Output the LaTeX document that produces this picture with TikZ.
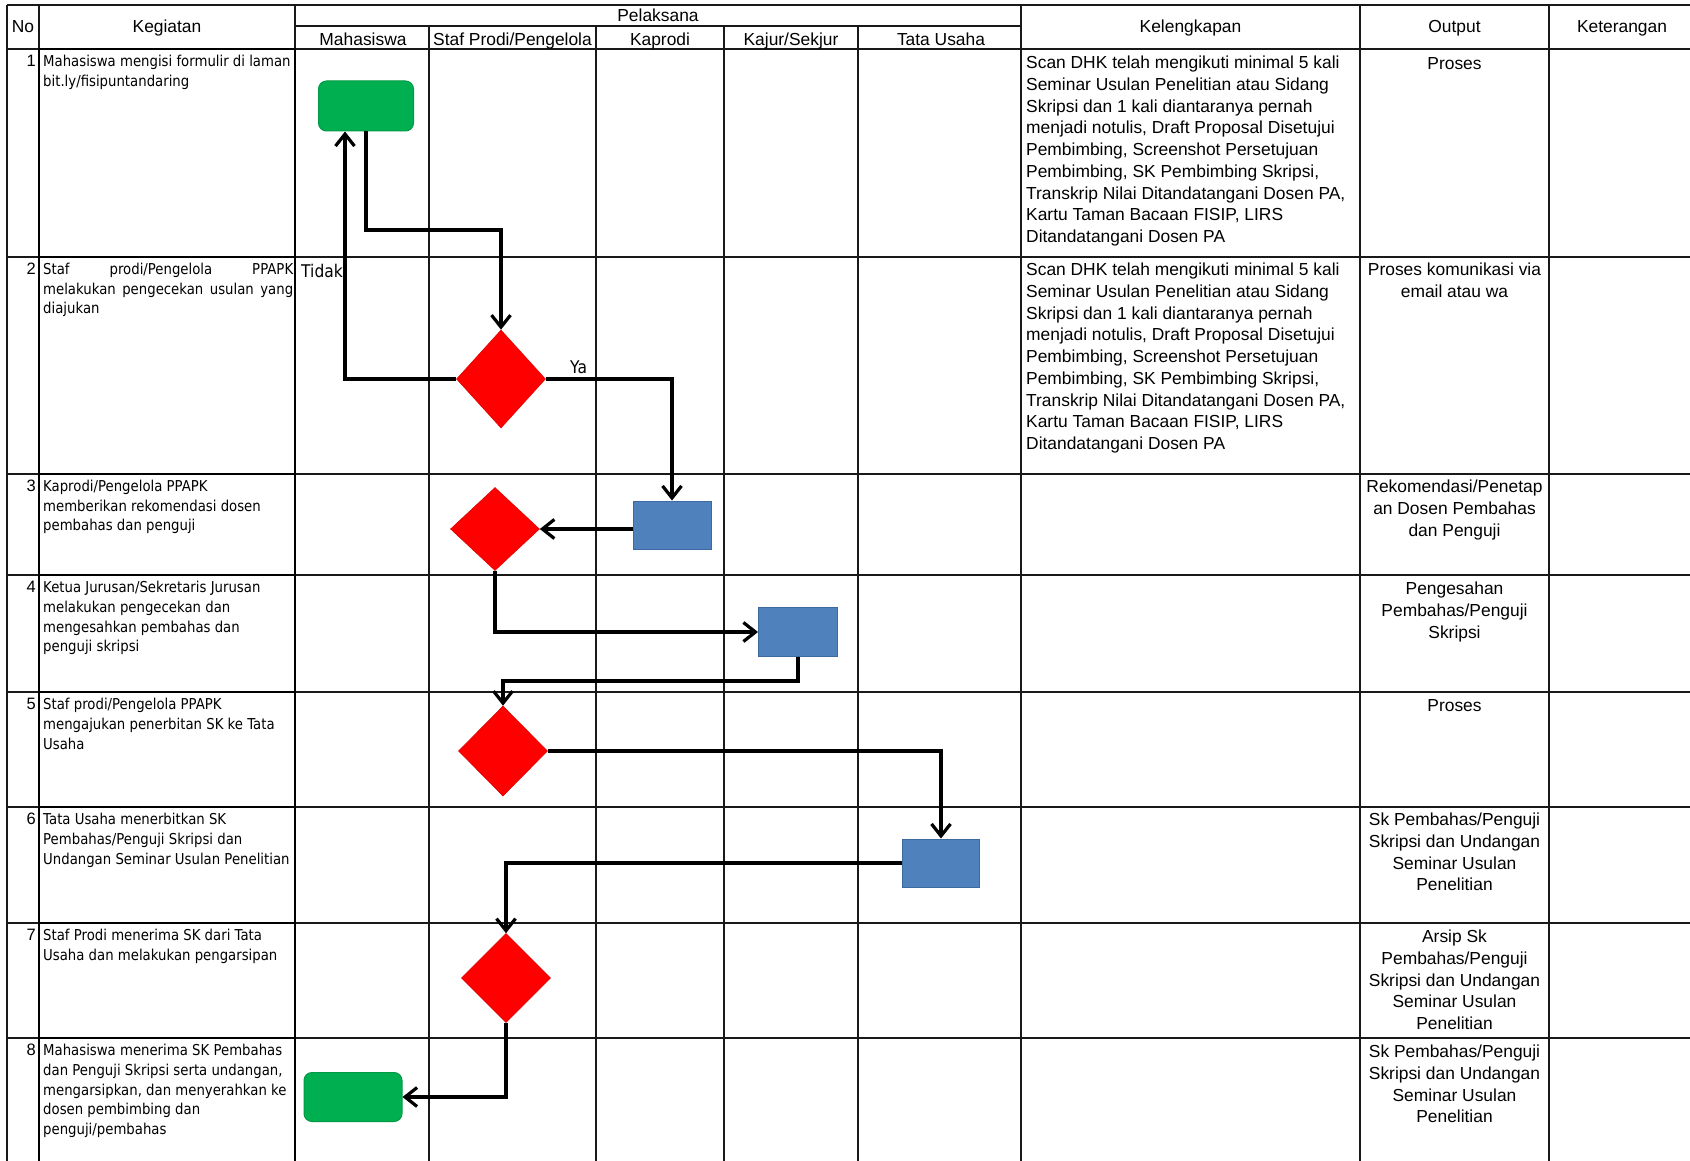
\documentclass[tikz,border=0pt]{standalone}
\usepackage{fontspec}
\setmainfont{Liberation Sans}
\newfontfamily\tah{DejaVu Sans}[FakeStretch=0.885]
\usetikzlibrary{shapes.geometric,arrows.meta}
\definecolor{xgreen}{HTML}{00B050}
\definecolor{xgreenb}{HTML}{009A46}
\definecolor{xred}{HTML}{FF0000}
\definecolor{xredb}{HTML}{E00000}
\definecolor{xblue}{HTML}{4F81BD}
\definecolor{xblueb}{HTML}{3D6A9E}
\tikzset{
  gridline/.style={line width=1.4pt, draw=black!90},
  kegline/.style={line width=2.8pt, draw=black, line cap=rect},
  flow/.style={line width=3.2pt, draw=black, -{Straight Barb[length=12pt,width=19pt]}},
  hdr/.style={font=\fontsize{17.4}{21}\selectfont, inner sep=0pt, anchor=base},
  keg/.style={font=\tah\fontsize{15}{19.7}\selectfont, align=left, anchor=north west, inner sep=0pt},
  num/.style={font=\fontsize{16.5}{19.7}\selectfont, anchor=north east, inner sep=0pt},
  kel/.style={font=\fontsize{17.4}{21.7}\selectfont, align=left, anchor=north west, inner sep=0pt},
  outp/.style={font=\fontsize{17.4}{21.7}\selectfont, align=center, anchor=north, inner sep=0pt},
  lbl/.style={font=\tah\fontsize{17.5}{19}\selectfont, anchor=base west, inner sep=0pt},
  startbox/.style={draw=xgreenb, fill=xgreen, rounded corners=8pt, line width=1pt, inner sep=0pt},
  procbox/.style={draw=xblueb, fill=xblue, line width=1pt, inner sep=0pt},
  decision/.style={diamond, draw=xredb, fill=xred, line width=0.6pt, inner sep=0pt},
}
\begin{document}
\begin{tikzpicture}[x=1pt,y=-1pt]
\useasboundingbox[fill=white] (0,0) rectangle (1690,1161);
% grid
\draw[gridline] (7,5) -- (1690,5);
\draw[gridline] (295,26) -- (1021,26);
\foreach \y in {49,257,474,575,692,807,923,1038} \draw[gridline] (7,\y) -- (1690,\y);
\foreach \x in {7,39,295,1021,1360,1549} \draw[gridline] (\x,5) -- (\x,1161);
\foreach \x in {429,596,724,858} \draw[gridline] (\x,26) -- (\x,1161);
% thick kegiatan cells
\draw[kegline] (39,49) -- (39,1161) (295,49) -- (295,1161);
\foreach \y in {49,257,474,575,692,807,923,1038} \draw[kegline] (39,\y) -- (295,\y);

% header
\node[hdr] (hno) at (23,33) {No};
\node[hdr] (hkeg) at (167,33) {Kegiatan};
\node[hdr] (hpel) at (658,22) {Pelaksana};
\node[hdr] (hmhs) at (363,46) {Mahasiswa};
\node[hdr] (hstaf) at (512.5,46) {Staf Prodi/Pengelola};
\node[hdr] (hkap) at (660,46) {Kaprodi};
\node[hdr] (hkaj) at (791,46) {Kajur/Sekjur};
\node[hdr] (htu) at (941,46) {Tata Usaha};
\node[hdr] (hkel) at (1190.5,33) {Kelengkapan};
\node[hdr] (hout) at (1454.5,33) {Output};
\node[hdr] (hket) at (1622,33) {Keterangan};

% numbers
\node[num] (n1) at (36,55) {1};
\node[num] (n2) at (36,263) {2};
\node[num] (n3) at (36,480) {3};
\node[num] (n4) at (36,581) {4};
\node[num] (n5) at (36,698) {5};
\node[num] (n6) at (36,813) {6};
\node[num] (n7) at (36,929) {7};
\node[num] (n8) at (36,1044) {8};

% kegiatan
\node[keg] (k1) at (43,55) {Mahasiswa mengisi formulir di laman\\bit.ly/fisipuntandaring};
\node[keg] (k2) at (43,263) {\makebox[250pt][s]{Staf prodi/Pengelola PPAPK}\\\makebox[250pt][s]{melakukan pengecekan usulan yang}\\diajukan};
\node[keg] (k3) at (43,480) {Kaprodi/Pengelola PPAPK\\memberikan rekomendasi dosen\\pembahas dan penguji};
\node[keg] (k4) at (43,581) {Ketua Jurusan/Sekretaris Jurusan\\melakukan pengecekan dan\\mengesahkan pembahas dan\\penguji skripsi};
\node[keg] (k5) at (43,698) {Staf prodi/Pengelola PPAPK\\mengajukan penerbitan SK ke Tata\\Usaha};
\node[keg] (k6) at (43,813) {Tata Usaha menerbitkan SK\\Pembahas/Penguji Skripsi dan\\Undangan Seminar Usulan Penelitian};
\node[keg] (k7) at (43,929) {Staf Prodi menerima SK dari Tata\\Usaha dan melakukan pengarsipan};
\node[keg] (k8) at (43,1044) {Mahasiswa menerima SK Pembahas\\dan Penguji Skripsi serta undangan,\\mengarsipkan, dan menyerahkan ke\\dosen pembimbing dan\\penguji/pembahas};

% kelengkapan
\node[kel] (l1) at (1026,56) {Scan DHK telah mengikuti minimal 5 kali\\Seminar Usulan Penelitian atau Sidang\\Skripsi dan 1 kali diantaranya pernah\\menjadi notulis, Draft Proposal Disetujui\\Pembimbing, Screenshot Persetujuan\\Pembimbing, SK Pembimbing Skripsi,\\Transkrip Nilai Ditandatangani Dosen PA,\\Kartu Taman Bacaan FISIP, LIRS\\Ditandatangani Dosen PA};
\node[kel] (l2) at (1026,263) {Scan DHK telah mengikuti minimal 5 kali\\Seminar Usulan Penelitian atau Sidang\\Skripsi dan 1 kali diantaranya pernah\\menjadi notulis, Draft Proposal Disetujui\\Pembimbing, Screenshot Persetujuan\\Pembimbing, SK Pembimbing Skripsi,\\Transkrip Nilai Ditandatangani Dosen PA,\\Kartu Taman Bacaan FISIP, LIRS\\Ditandatangani Dosen PA};

% output
\node[outp] (o1) at (1454.5,57) {Proses};
\node[outp] (o2) at (1454.5,263) {Proses komunikasi via\\email atau wa};
\node[outp] (o3) at (1454.5,480) {Rekomendasi/Penetap\\an Dosen Pembahas\\dan Penguji};
\node[outp] (o4) at (1454.5,582) {Pengesahan\\Pembahas/Penguji\\Skripsi};
\node[outp] (o5) at (1454.5,699) {Proses};
\node[outp] (o6) at (1454.5,813) {Sk Pembahas/Penguji\\Skripsi dan Undangan\\Seminar Usulan\\Penelitian};
\node[outp] (o7) at (1454.5,930) {Arsip Sk\\Pembahas/Penguji\\Skripsi dan Undangan\\Seminar Usulan\\Penelitian};
\node[outp] (o8) at (1454.5,1045) {Sk Pembahas/Penguji\\Skripsi dan Undangan\\Seminar Usulan\\Penelitian};

% flow shapes
\node[startbox, minimum width=95pt, minimum height=50pt] (s1) at (366,106) {};
\node[decision, minimum width=89pt, minimum height=98pt] (d2) at (501,379) {};
\node[procbox, minimum width=78pt, minimum height=48pt] (b3) at (672,525) {};
\node[decision, minimum width=89pt, minimum height=83pt] (d3) at (495,529) {};
\node[procbox, minimum width=79pt, minimum height=49pt] (b4) at (798,632) {};
\node[decision, minimum width=89pt, minimum height=90pt] (d5) at (503,751) {};
\node[procbox, minimum width=77pt, minimum height=48pt] (b6) at (941,863) {};
\node[decision, minimum width=89pt, minimum height=89pt] (d7) at (506,978) {};
\node[startbox, minimum width=98pt, minimum height=49pt] (s8) at (353,1097) {};

\coordinate (k1y) at (0,230);
\coordinate (tx) at (345,0);
\coordinate (k5y) at (0,681);

% connectors
\draw[flow] (s1.south) |- (d2.north |- k1y) -- (d2.north);
\draw[flow] (d2.west) -| (tx |- s1.south);
\draw[flow] (d2.east) -| (b3.north);
\draw[flow] (b3.west |- d3.east) -- (d3.east);
\draw[flow] (d3.south) |- (b4.west);
\draw[flow] (b4.south) |- (d5.north |- k5y) -- (d5.north);
\draw[flow] (d5.east) -| (b6.north);
\draw[flow] (b6.west) -| (d7.north);
\draw[flow] (d7.south) |- (s8.east);

% labels
\node[lbl] (tidak) at (301,277) {Tidak};
\node[lbl] (ya) at (570,373) {Ya};
\end{tikzpicture}
\end{document}
